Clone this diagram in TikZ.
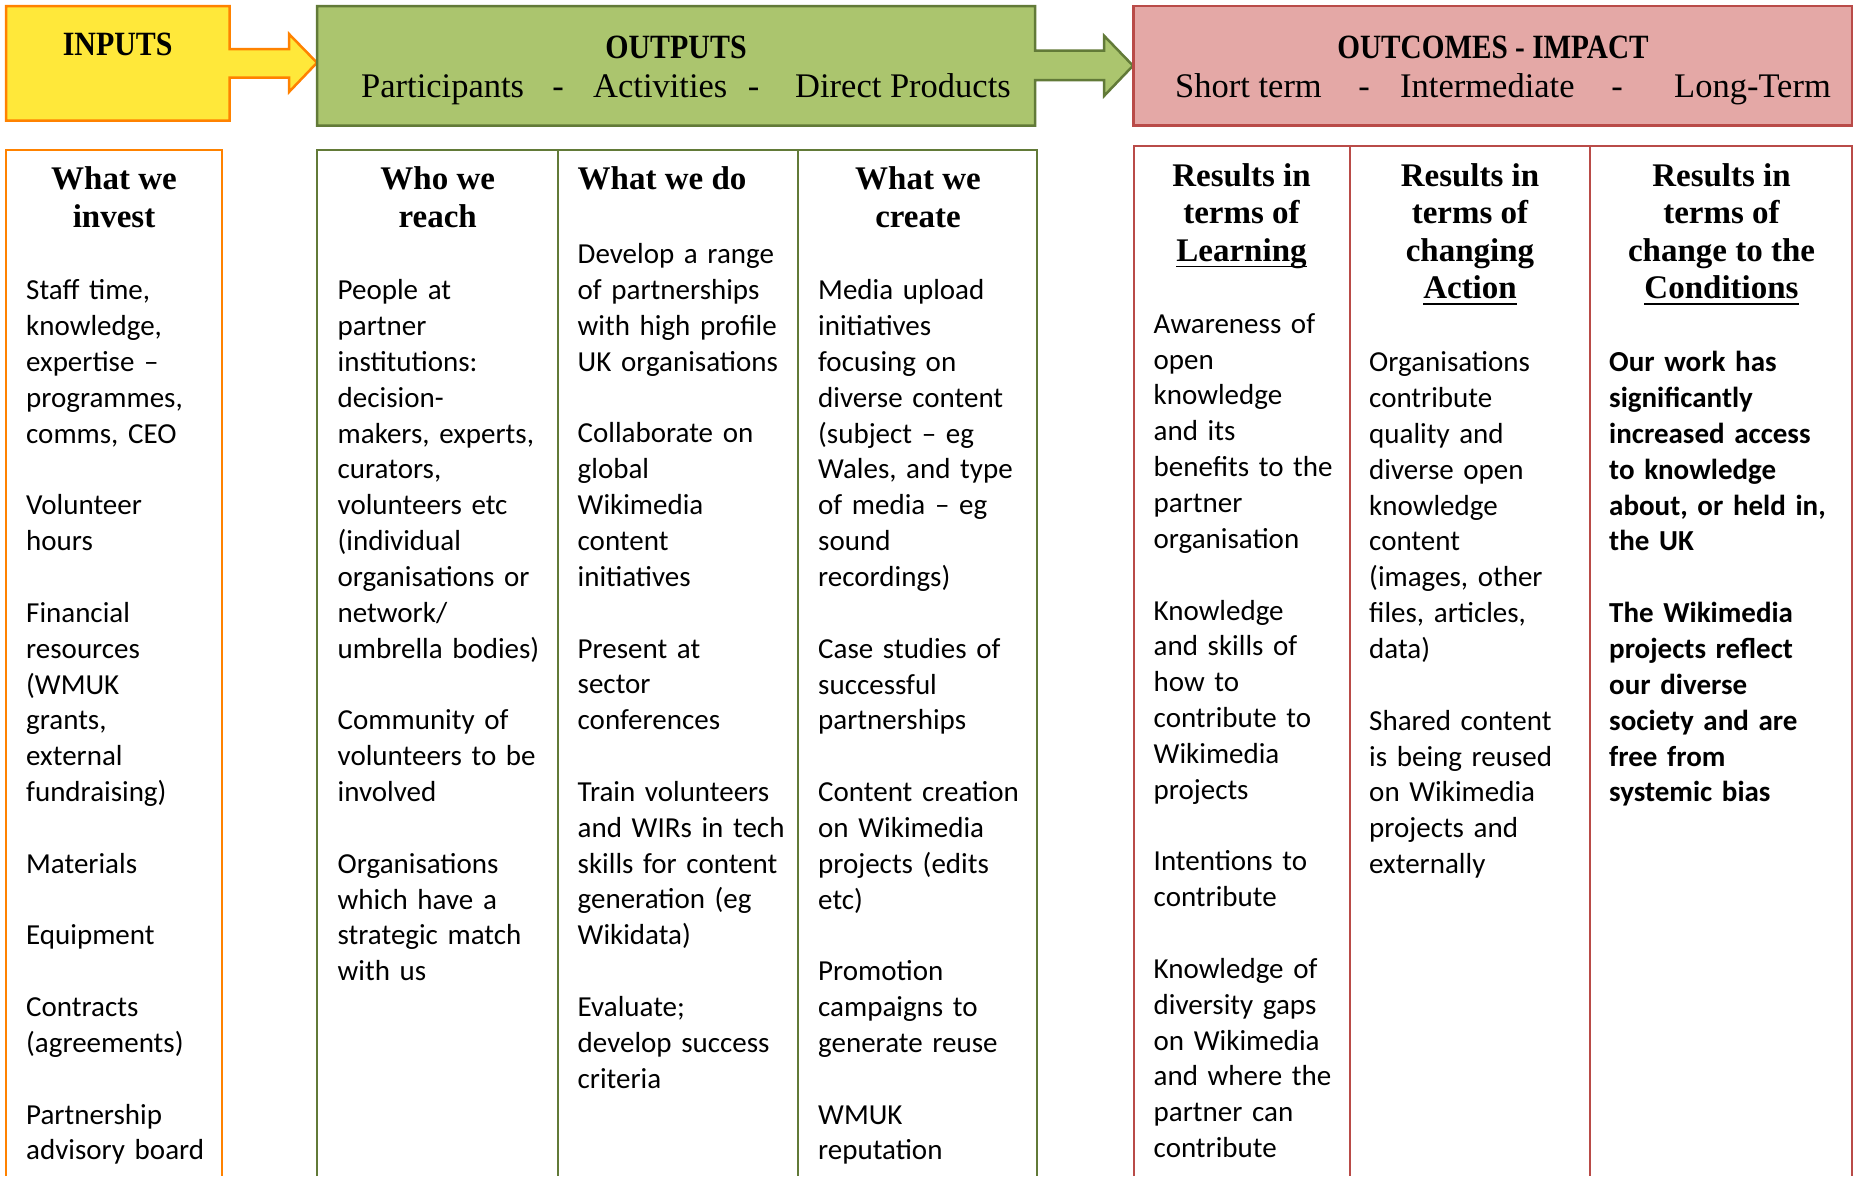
\documentclass[tikz,border=0pt]{standalone}
\usepackage{fontspec}
\setmainfont{Carlito}
\newfontfamily\hserif{Liberation Serif}
\newfontfamily\capserif{Liberation Serif}[FakeStretch=0.88]
\newfontfamily\capserifn{Liberation Serif}[FakeStretch=0.86]
\definecolor{inyellow}{HTML}{FFE83A}
\definecolor{inorange}{HTML}{FF8200}
\definecolor{outgreen}{HTML}{ABC56E}
\definecolor{outgreenline}{HTML}{627A38}
\definecolor{ocpink}{HTML}{E4A8A6}
\definecolor{ocred}{HTML}{B94B48}
\newcommand{\uln}[1]{\setbox0\hbox{#1}\rlap{\rule[-6pt]{\wd0}{1.8pt}}\box0}
\tikzset{
  topbox/.style={line width=2.5pt, line join=miter},
  lowbox/.style={line width=2pt},
  capshead/.style={inner sep=0, anchor=base, font=\capserif\bfseries\fontsize{34}{40}\selectfont},
  subhead/.style={inner sep=0, anchor=base west, font=\hserif\fontsize{34.5}{40}\selectfont},
  subdash/.style={inner sep=0, anchor=base, font=\hserif\fontsize{34.5}{40}\selectfont},
  colhead/.style={inner sep=0, anchor=north, align=center, font=\hserif\bfseries\fontsize{33}{38}\selectfont},
  ochead/.style={inner sep=0, anchor=north, align=center, font=\hserif\bfseries\fontsize{33}{37.5}\selectfont},
  body/.style={inner sep=0, anchor=north west, align=left, text width=300pt, font=\fontsize{29}{35.84}\selectfont},
  boldbody/.style={body, font=\bfseries\fontsize{29}{35.84}\selectfont},
}
\begin{document}
\begin{tikzpicture}[x=1pt,y=-1pt]
\useasboundingbox (0,0) rectangle (1855,1176);
% top shapes
\draw[topbox, fill=inyellow, draw=inorange]
  (6,6) -- (229.5,6) -- (229.5,49) -- (289,49) -- (289,34) -- (317,62.7)
  -- (289,92) -- (289,77.7) -- (229.5,77.7) -- (229.5,120.7) -- (6,120.7) -- cycle;
\draw[topbox, fill=outgreen, draw=outgreenline]
  (317,6) -- (1035,6) -- (1035,50.7) -- (1104,50.7) -- (1104,35.7) -- (1133,65.7)
  -- (1104,96) -- (1104,80) -- (1035,80) -- (1035,125.5) -- (317,125.5) -- cycle;
\draw[topbox, fill=ocpink, draw=ocred] (1133.5,6) rectangle (1852,125.5);
% top texts
\node[capshead] (tin) at (117.7,55) {INPUTS};
\node[capshead] (tout) at (676,58.6) {OUTPUTS};
\node[capshead, font=\capserifn\bfseries\fontsize{34}{40}\selectfont] (toc) at (1493,58.6) {OUTCOMES - IMPACT};
\node[subhead] (s1) at (361,97) {Participants};
\node[subdash] (d1) at (558,97) {-};
\node[subhead] (s2) at (593,97) {Activities};
\node[subdash] (d2) at (753.6,97) {-};
\node[subhead] (s3) at (795,97) {Direct Products};
\node[subhead] (s4) at (1175,97) {Short term};
\node[subdash] (d3) at (1364,97) {-};
\node[subhead] (s5) at (1400,97) {Intermediate};
\node[subdash] (d4) at (1617,97) {-};
\node[subhead] (s6) at (1674,97) {Long-Term};
% lower boxes
\draw[lowbox, draw=inorange] (6,1176) -- (6,150) -- (221.5,150) -- (221.5,1176);
\draw[lowbox, draw=outgreenline] (317,1176) -- (317,150) -- (1037,150) -- (1037,1176);
\draw[lowbox, draw=outgreenline] (558,150) -- (558,1176);
\draw[lowbox, draw=outgreenline] (797.5,150) -- (797.5,1176);
\draw[lowbox, draw=ocred] (1133.5,1176) -- (1133.5,145.5) -- (1852,145.5) -- (1852,1176);
\draw[lowbox, draw=ocred] (1350,145.5) -- (1350,1176);
\draw[lowbox, draw=ocred] (1590,145.5) -- (1590,1176);
% column headers
\node[colhead] (h1) at (114,162.4) {\strut What we\\invest};
\node[colhead] (h2) at (437.7,162.4) {\strut Who we\\reach};
\node[inner sep=0, anchor=base west, font=\hserif\bfseries\fontsize{33}{38}\selectfont] (h3) at (577.5,189) {What we do};
\node[colhead] (h4) at (918,162.4) {\strut What we\\create};
\node[ochead] (h5) at (1241.5,160) {\strut Results in\\terms of\\\uln{Learning}};
\node[ochead] (h6) at (1470,160) {\strut Results in\\terms of\\changing\\\uln{Action}};
\node[ochead] (h7) at (1721.5,160) {\strut Results in\\terms of\\change to the\\\uln{Conditions}};
% bodies
\node[body] (b1) at (26,274.5) {\strut Staff time,\\knowledge,\\expertise –\\programmes,\\comms, CEO\\\mbox{}\\Volunteer\\hours\\\mbox{}\\Financial\\resources\\(WMUK\\grants,\\external\\fundraising)\\\mbox{}\\Materials\\\mbox{}\\Equipment\\\mbox{}\\Contracts\\(agreements)\\\mbox{}\\Partnership\\advisory board};
\node[body] (b2) at (337.5,274.5) {\strut People at\\partner\\institutions:\\decision-\\makers, experts,\\curators,\\volunteers etc\\(individual\\organisations or\\network/\\umbrella bodies)\\\mbox{}\\Community of\\volunteers to be\\involved\\\mbox{}\\Organisations\\which have a\\strategic match\\with us};
\node[body] (b3) at (577.5,238.5) {\strut Develop a range\\of partnerships\\with high profile\\UK organisations\\\mbox{}\\Collaborate on\\global\\Wikimedia\\content\\initiatives\\\mbox{}\\Present at\\sector\\conferences\\\mbox{}\\Train volunteers\\and WIRs in tech\\skills for content\\generation (eg\\Wikidata)\\\mbox{}\\Evaluate;\\develop success\\criteria};
\node[body] (b4) at (818,274.5) {\strut Media upload\\initiatives\\focusing on\\diverse content\\(subject – eg\\Wales, and type\\of media – eg\\sound\\recordings)\\\mbox{}\\Case studies of\\successful\\partnerships\\\mbox{}\\Content creation\\on Wikimedia\\projects (edits\\etc)\\\mbox{}\\Promotion\\campaigns to\\generate reuse\\\mbox{}\\WMUK\\reputation};
\node[body] (b5) at (1153.5,308) {\strut Awareness of\\open\\knowledge\\and its\\benefits to the\\partner\\organisation\\\mbox{}\\Knowledge\\and skills of\\how to\\contribute to\\Wikimedia\\projects\\\mbox{}\\Intentions to\\contribute\\\mbox{}\\Knowledge of\\diversity gaps\\on Wikimedia\\and where the\\partner can\\contribute};
\node[body] (b6) at (1369,346.5) {\strut Organisations\\contribute\\quality and\\diverse open\\knowledge\\content\\(images, other\\files, articles,\\data)\\\mbox{}\\Shared content\\is being reused\\on Wikimedia\\projects and\\externally};
\node[boldbody] (b7) at (1609,346.5) {\strut Our work has\\significantly\\increased access\\to knowledge\\about, or held in,\\the UK\\\mbox{}\\The Wikimedia\\projects reflect\\our diverse\\society and are\\free from\\systemic bias};
\end{tikzpicture}
\end{document}
